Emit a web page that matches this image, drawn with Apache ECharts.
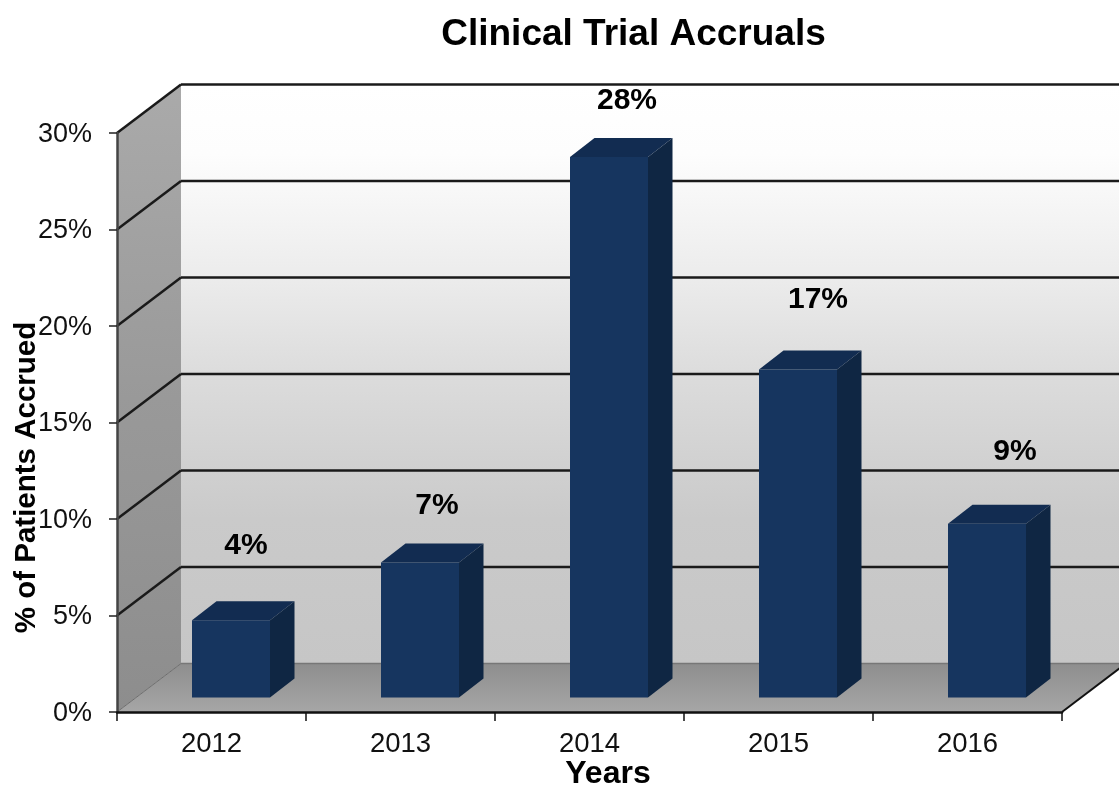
<!DOCTYPE html>
<html>
<head>
<meta charset="utf-8">
<title>Clinical Trial Accruals</title>
<script src="https://cdn.jsdelivr.net/npm/echarts@6/dist/echarts.min.js"></script>
<style>
  html, body { margin: 0; padding: 0; background: #fff; }
  #chart { width: 1119px; height: 787px; }
</style>
</head>
<body>
<div id="chart"></div>
<script>
const years = ['2012', '2013', '2014', '2015', '2016']
const accrued = [4, 7, 28, 17, 9]
const yTicks = [0, 5, 10, 15, 20, 25, 30]

const FONT = '"Liberation Sans", Arial, sans-serif'
// depth of the fake 3d box, in pixels
const WALL_DX = 64
const WALL_DY = -48.5
// bars stand part way into the box
const BAR_SHIFT_X = 19.5
const BAR_SHIFT_Y = -14.5
const BAR_DX = 24.5
const BAR_DY = -19
const BAR_W = 78
// value labels sit at slightly different spots above each bar
const labelNudge = [[15, -75], [17, -57], [18, -56], [20, -70], [28, -72]]

function poly (points, fill, extra) {
  return Object.assign({
    type: 'polygon',
    shape: { points: points },
    style: { fill: fill }
  }, extra)
}

function line (x1, y1, x2, y2, stroke, width) {
  return {
    type: 'line',
    shape: { x1: x1, y1: y1, x2: x2, y2: y2 },
    style: { stroke: stroke, lineWidth: width }
  }
}

function vGradient (stops) {
  return new echarts.graphic.LinearGradient(0, 0, 0, 1, stops.map(s => ({ offset: s[0], color: s[1] })))
}

function renderWalls (params, api) {
  const cs = params.coordSys
  const left = cs.x
  const right = cs.x + cs.width
  const top = api.coord([0, 30])[1]
  const bottom = api.coord([0, 0])[1]
  const backLeft = left + WALL_DX
  return {
    type: 'group',
    children: [
      poly([[backLeft, top + WALL_DY], [right + WALL_DX, top + WALL_DY], [right + WALL_DX, bottom + WALL_DY], [backLeft, bottom + WALL_DY]],
        vGradient([[0, '#ffffff'], [0.12, '#fdfdfd'], [0.33, '#ececec'], [0.5, '#dcdcdc'], [0.75, '#cacaca'], [1, '#c6c6c6']])),
      poly([[left, top], [backLeft, top + WALL_DY], [backLeft, bottom + WALL_DY], [left, bottom]],
        vGradient([[0, '#aaaaaa'], [0.5, '#999999'], [1, '#8d8d8d']])),
      poly([[left, bottom], [backLeft, bottom + WALL_DY], [right + WALL_DX, bottom + WALL_DY], [right, bottom]],
        vGradient([[0, '#8e8e8e'], [1, '#a6a6a6']])),
      line(left, bottom, backLeft, bottom + WALL_DY, '#6e6e6e', 1),
      line(backLeft, bottom + WALL_DY, right + WALL_DX, bottom + WALL_DY, '#777', 1.5),
      line(right, bottom, right + WALL_DX, bottom + WALL_DY, '#111', 2)
    ]
  }
}

function renderGridline (params, api) {
  const v = api.value(1)
  if (v === 0) return null
  const cs = params.coordSys
  const y = api.coord([0, v])[1]
  return {
    type: 'group',
    children: [
      line(cs.x, y, cs.x + WALL_DX, y + WALL_DY, '#1a1a1a', 2.5),
      line(cs.x + WALL_DX, y + WALL_DY, cs.x + cs.width + WALL_DX, y + WALL_DY, '#1a1a1a', 2.5)
    ]
  }
}

function renderBar (params, api) {
  const i = api.value(0)
  const v = api.value(1)
  const base = api.coord([i, 0])
  const tip = api.coord([i, v])
  const x0 = base[0] + BAR_SHIFT_X - BAR_W / 2
  const x1 = x0 + BAR_W
  const yb = base[1] + BAR_SHIFT_Y
  const yt = tip[1] + BAR_SHIFT_Y
  const nudge = labelNudge[i]
  return {
    type: 'group',
    children: [
      poly([[x0, yt], [x1, yt], [x1, yb], [x0, yb]], '#16355f'),
      poly([[x0, yt], [x0 + BAR_DX, yt + BAR_DY], [x1 + BAR_DX, yt + BAR_DY], [x1, yt]], '#122c51'),
      poly([[x1, yt], [x1 + BAR_DX, yt + BAR_DY], [x1 + BAR_DX, yb + BAR_DY], [x1, yb]], '#0f2643'),
      {
        type: 'text',
        style: {
          x: x0 + BAR_W / 2 + nudge[0],
          y: yt + nudge[1],
          text: v + '%',
          fill: '#000',
          font: 'bold 30px ' + FONT,
          align: 'center',
          verticalAlign: 'middle'
        }
      }
    ]
  }
}

const chart = echarts.init(document.getElementById('chart'), null, { renderer: 'canvas' })
chart.setOption({
  animation: false,
  backgroundColor: '#fff',
  title: {
    text: 'Clinical Trial Accruals',
    left: 628.5,
    top: 11,
    textAlign: 'center',
    textStyle: { color: '#000', fontFamily: FONT, fontWeight: 'bold', fontSize: 37 }
  },
  grid: { left: 117, top: 133, width: 945, height: 579, outerBoundsMode: 'none' },
  xAxis: {
    type: 'category',
    data: years,
    z: 5,
    name: 'Years',
    nameLocation: 'middle',
    nameGap: 46,
    nameMoveOverlap: false,
    nameTextStyle: { color: '#000', fontFamily: FONT, fontWeight: 'bold', fontSize: 32, padding: [0, 0, 0, 37] },
    axisLine: { lineStyle: { color: '#111', width: 2.5 } },
    axisTick: { show: true, alignWithLabel: false, length: 9, lineStyle: { color: '#111', width: 1.5 } },
    axisLabel: { color: '#111', fontFamily: FONT, fontSize: 27.5, margin: 18 }
  },
  yAxis: {
    type: 'value',
    min: 0,
    max: 30,
    interval: 5,
    z: 5,
    name: '% of Patients Accrued',
    nameLocation: 'middle',
    nameGap: 75,
    nameMoveOverlap: false,
    nameRotate: 90,
    nameTextStyle: { color: '#000', fontFamily: FONT, fontWeight: 'bold', fontSize: 29.5, padding: [0, 110, 0, 0] },
    splitLine: { show: false },
    axisLine: { show: true, lineStyle: { color: '#444', width: 2.5 } },
    axisTick: { show: true, length: 8, lineStyle: { color: '#222', width: 1.5 } },
    axisLabel: { color: '#111', fontFamily: FONT, fontSize: 27, margin: 25, verticalAlign: 'top', lineHeight: 3, formatter: '{value}%' }
  },
  series: [
    {
      type: 'custom',
      name: 'walls',
      silent: true,
      z: 1,
      data: [[0, 0]],
      encode: { x: 0, y: 1 },
      renderItem: renderWalls
    },
    {
      type: 'custom',
      name: 'gridlines',
      silent: true,
      z: 2,
      data: yTicks.map(t => [0, t]),
      encode: { x: 0, y: 1 },
      renderItem: renderGridline
    },
    {
      type: 'custom',
      name: '% of Patients Accrued',
      z: 3,
      data: accrued.map((v, i) => [i, v]),
      encode: { x: 0, y: 1 },
      renderItem: renderBar
    }
  ]
})
</script>
</body>
</html>
